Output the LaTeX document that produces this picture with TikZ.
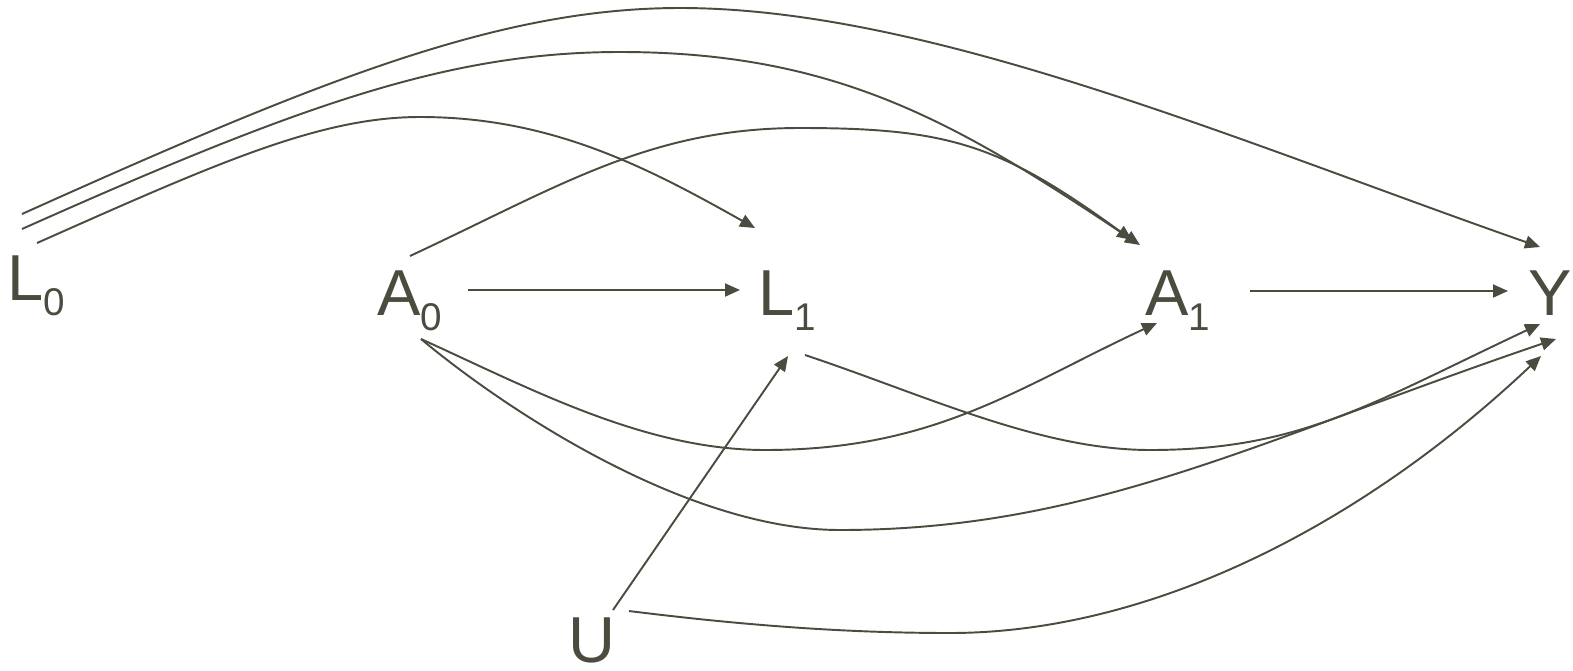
\documentclass[tikz,border=0pt]{standalone}
\usepackage{fontspec}
\setmainfont{Liberation Sans}
\usetikzlibrary{arrows.meta, positioning, calc}

\definecolor{ink}{RGB}{75,75,63}
\newcommand{\varfont}{\fontsize{37}{44}\selectfont}
\newcommand{\idx}[1]{\raisebox{-0.3cm}{\fontsize{22}{22}\selectfont #1}}

\begin{document}
\begin{tikzpicture}[
  x=0.02cm, y=-0.02cm,
  var/.style={inner sep=0pt, anchor=base west, text=ink, font=\varfont},
  arrow/.style={-{Triangle[length=0.3cm, width=0.26cm]}, draw=ink, line width=1.1pt},
]
\useasboundingbox (0,0) rectangle (1573,670);

\node[var] (L0) at (7,300)    {L\idx{0}};
\node[var] (A0) at (377,315)  {A\idx{0}};
\node[var] (L1) at (758,315)  {L\idx{1}};
\node[var] (A1) at (1145,315) {A\idx{1}};
\node[var] (Y)  at (1528,315) {Y};
\node[var] (U)  at (568,662)  {U};

% ---- straight arrows ----
\draw[arrow] ([shift={(91,-25)}]A0.base west) -- ([shift={(-18,-25)}]L1.base west);
\draw[arrow] ([shift={(105,-24)}]A1.base west) -- ([shift={(-20,-24)}]Y.base west);
\draw[arrow] ([shift={(45,-52)}]U.base west) -- ([shift={(30,41)}]L1.base west);

% ---- arcs above ----
\draw[arrow] ([shift={(15,-86)}]L0.base west)
  .. controls (322,79) and (500,8) .. (680,8)
  .. controls (930,8) and (1240,142) .. ([shift={(12,-68)}]Y.base west);
\draw[arrow] ([shift={(15,-71)}]L0.base west)
  .. controls (302,104) and (450,52) .. (620,52)
  .. controls (840,52) and (960,125) .. ([shift={(-5,-70)}]A1.base west);
\draw[arrow] ([shift={(30,-57)}]L0.base west)
  .. controls (217,163) and (320,117) .. (420,117)
  .. controls (550,117) and (645,166) .. ([shift={(-3,-87)}]L1.base west);
\draw[arrow] ([shift={(33,-59)}]A0.base west)
  .. controls (560,186) and (650,128) .. (800,128)
  .. controls (950,128) and (1001,145) .. ([shift={(-13,-75)}]A1.base west);

% ---- arcs below ----
\draw[arrow] ([shift={(44,24)}]A0.base west)
  .. controls (531,389) and (645,450) .. (765,450)
  .. controls (935,450) and (1017,388) .. ([shift={(12,8)}]A1.base west);
\draw[arrow] ([shift={(44,24)}]A0.base west)
  .. controls (511,414) and (690,530) .. (840,530)
  .. controls (1090,530) and (1256,441) .. ([shift={(28,24)}]Y.base west);
\draw[arrow] ([shift={(47,40)}]L1.base west)
  .. controls (925,395) and (1040,450) .. (1150,450)
  .. controls (1300,450) and (1370,404) .. ([shift={(12,9)}]Y.base west);
\draw[arrow] ([shift={(61,-51)}]U.base west)
  .. controls (749,626) and (850,633) .. (950,633)
  .. controls (1150,633) and (1361,526) .. ([shift={(13,41)}]Y.base west);

\end{tikzpicture}
\end{document}
